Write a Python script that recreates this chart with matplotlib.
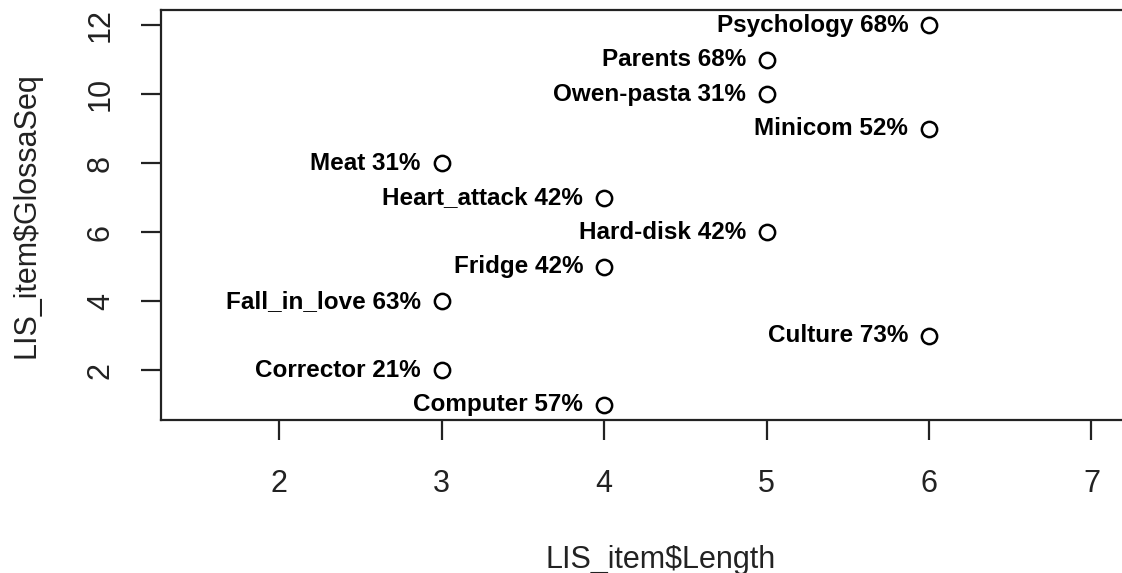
import matplotlib
matplotlib.use("Agg")
import matplotlib.pyplot as plt

# Item data: word length, gloss sequence number, and recognition rate
items = ["Psychology", "Parents", "Owen-pasta", "Minicom", "Meat", "Heart_attack",
         "Hard-disk", "Fridge", "Fall_in_love", "Culture", "Corrector", "Computer"]
length = [6, 5, 5, 6, 3, 4, 5, 4, 3, 6, 3, 4]
glossa_seq = [12, 11, 10, 9, 8, 7, 6, 5, 4, 3, 2, 1]
percent = [68, 68, 31, 52, 31, 42, 42, 42, 63, 73, 21, 57]

x_ticks = [2, 3, 4, 5, 6, 7]
y_ticks = [2, 4, 6, 8, 10, 12]

plt.rcParams["font.family"] = ["Liberation Sans", "DejaVu Sans"]

fig = plt.figure(figsize=(11.22, 5.73), dpi=100)
ax = fig.add_axes([161 / 1122, 153 / 573, 1000 / 1122, 410 / 573])

ax.plot(length, glossa_seq, linestyle="none", marker="o", markersize=11,
        markerfacecolor="none", markeredgecolor="black", markeredgewidth=1.8)

for name, x, y, p in zip(items, length, glossa_seq, percent):
    ax.annotate(f"{name} {p}%", xy=(x, y), xytext=(-15, 0), textcoords="offset points",
                ha="right", va="center", fontsize=17.5, fontweight="bold", color="black")

ax.set_xlim(1.272, 7.428)
ax.set_ylim(0.56, 12.44)
ax.set_xticks(x_ticks)
ax.set_yticks(y_ticks)
ax.set_yticklabels([str(t) for t in y_ticks], rotation=90, va="center")

for s in ax.spines.values():
    s.set_linewidth(1.6)
    s.set_color("#222222")

ax.tick_params(axis="both", direction="out", length=14.5, width=1.6, color="#222222",
               labelsize=22, labelcolor="#222222")
ax.tick_params(axis="x", pad=21)
ax.tick_params(axis="y", pad=18)

ax.set_xlabel("LIS_item$Length", fontsize=22, color="#222222", labelpad=33)
ax.set_ylabel("LIS_item$GlossaSeq", fontsize=22, color="#222222", labelpad=32)

fig.savefig("out.png", dpi=100)
